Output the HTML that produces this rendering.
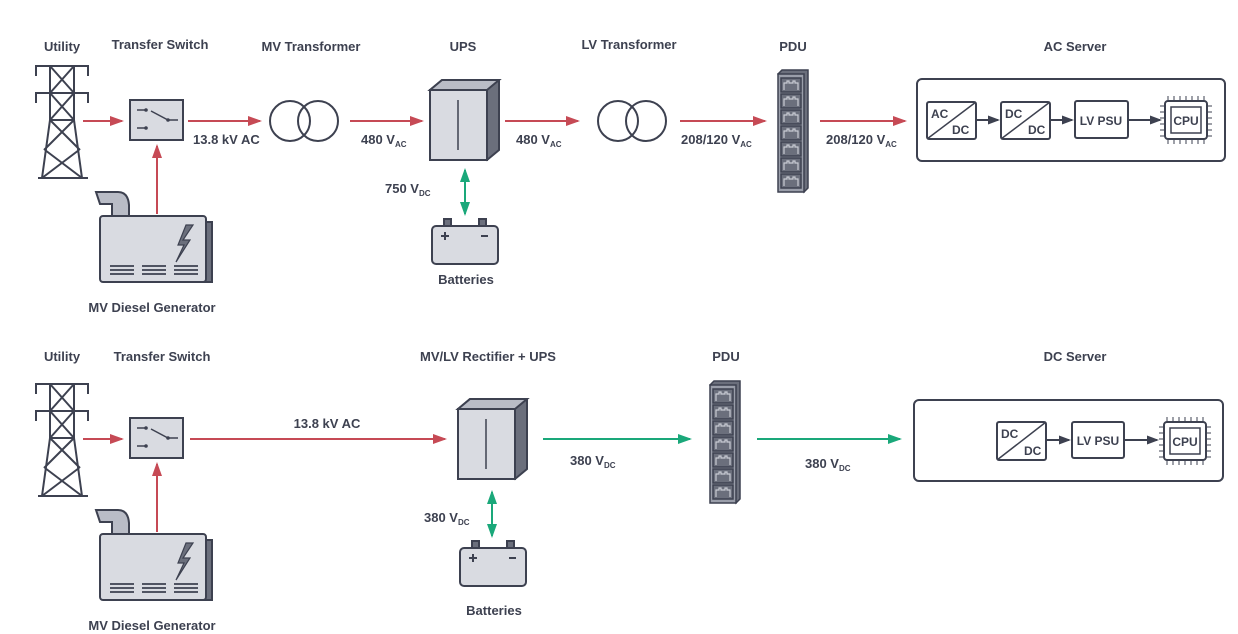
<!DOCTYPE html>
<html><head><meta charset="utf-8"><style>
html,body{margin:0;padding:0;background:#fff;}
svg{display:block;}
text{font-family:"Liberation Sans",sans-serif;font-weight:bold;fill:#3d4150;}
</style></head><body>
<svg width="1238" height="634" viewBox="0 0 1238 634" xmlns="http://www.w3.org/2000/svg">
<defs>
<marker id="ar" markerWidth="14" markerHeight="10" refX="12" refY="5" orient="auto" markerUnits="userSpaceOnUse"><path d="M0,0 L14,5 L0,10 Z" fill="#c64a55"/></marker>
<marker id="ag" markerWidth="14" markerHeight="10" refX="12" refY="5" orient="auto-start-reverse" markerUnits="userSpaceOnUse"><path d="M0,0 L14,5 L0,10 Z" fill="#1aa87a"/></marker>
<marker id="ad" markerWidth="12" markerHeight="9" refX="10" refY="4.5" orient="auto" markerUnits="userSpaceOnUse"><path d="M0,0 L12,4.5 L0,9 Z" fill="#3d4150"/></marker>
<g id="tower" fill="none" stroke="#3d4150" stroke-width="2">
<path d="M36,76 V66 H88 V76 M36,103 V93 H88 V103"/>
<rect x="50" y="66" width="24" height="54"/>
<path d="M50,66 L74,93 M74,66 L50,93 M50,93 L74,120 M74,93 L50,120"/>
<path d="M50,120 L42,178 M74,120 L82,178 M50,120 L80,150 M74,120 L44,150 M45,150 L82,178 M79,150 L42,178 M38,178 H88"/>
</g>
<g id="switch">
<rect x="130" y="100" width="53" height="40" fill="#d9dbe1" stroke="#3d4150" stroke-width="2"/>
<path d="M137,110 H146 M137,128 H146 M151,111 L168,120 H178" stroke="#3d4150" stroke-width="1.5" fill="none"/>
<circle cx="146" cy="110" r="1.8" fill="#3d4150"/><circle cx="146" cy="128" r="1.8" fill="#3d4150"/><circle cx="168" cy="120" r="1.8" fill="#3d4150"/>
</g>
<g id="gen" stroke="#3d4150" stroke-width="2">
<path d="M96,192 H118 Q128,192 129,205 V216 H112 V204 H100 Z" fill="#b9bcc6"/>
<rect x="104" y="222" width="108" height="60" fill="#6b6f7c"/>
<rect x="100" y="216" width="106" height="66" rx="3" fill="#d9dbe1"/>
<path d="M186,225 L178,245 H184 L176,262 L190,240 H183 L193,225 Z" fill="#6b6f7c" stroke-width="1.2"/>
<path d="M110,266 H134 M110,270 H134 M110,274 H134 M142,266 H166 M142,270 H166 M142,274 H166 M174,266 H198 M174,270 H198 M174,274 H198" stroke-width="1.8"/>
</g>
<g id="xf" fill="none" stroke="#3d4150" stroke-width="2"><circle cx="0" cy="0" r="20"/><circle cx="28" cy="0" r="20"/></g>
<g id="box" stroke="#3d4150" stroke-width="2">
<path d="M0,10 L12,0 H69 V70 L57,80 Z" fill="#6b6f7c"/>
<path d="M0,10 L12,0 H69 L57,10 Z" fill="#b9bcc6"/>
<rect x="0" y="10" width="57" height="70" fill="#d9dbe1"/>
<path d="M28,20 V70" stroke-width="1.5"/>
</g>
<g id="batt" stroke="#3d4150" stroke-width="2">
<rect x="12" y="0" width="7" height="8" fill="#6b6f7c"/><rect x="47" y="0" width="7" height="8" fill="#6b6f7c"/>
<rect x="0" y="7" width="66" height="38" rx="4" fill="#d9dbe1"/>
<path d="M9,17 H17 M13,13 V21 M49,17 H56" stroke-width="2"/>
</g>
<g id="pdu" stroke="#3d4150" stroke-width="1.5">
<path d="M0,4 L4,0 H30 V118 L26,122 Z" fill="#6b6f7c"/>
<rect x="0" y="4" width="26" height="118" fill="#9a9eaa"/>
<g id="out"><rect x="3" y="8" width="20" height="14" fill="#6b6f7c"/><path d="M6,20 V13 H9 V11 H11 V13 H15 V11 H17 V13 H20 V20" fill="none" stroke="#c9ccd4" stroke-width="1.2"/></g>
<use href="#out" y="16"/><use href="#out" y="32"/><use href="#out" y="48"/><use href="#out" y="64"/><use href="#out" y="80"/><use href="#out" y="96"/>
</g>
<g id="cpu" stroke="#3d4150" fill="none">
<path d="M8,0 V6 M14,0 V6 M20,0 V6 M26,0 V6 M32,0 V6 M38,0 V6 M44,0 V6 M8,42 V48 M14,42 V48 M20,42 V48 M26,42 V48 M32,42 V48 M38,42 V48 M44,42 V48 M0,10 H6 M0,16 H6 M0,22 H6 M0,28 H6 M0,34 H6 M0,40 H6 M46,10 H52 M46,16 H52 M46,22 H52 M46,28 H52 M46,34 H52 M46,40 H52" stroke-width="1"/>
<rect x="5" y="5" width="42" height="38" rx="3" fill="#fff" stroke-width="2"/>
<rect x="11" y="11" width="30" height="26" stroke-width="1.5"/>
</g>
</defs>

<!-- TOP ROW -->
<text x="62" y="51" font-size="13" text-anchor="middle">Utility</text>
<text x="160" y="49" font-size="13" text-anchor="middle">Transfer Switch</text>
<text x="311" y="51" font-size="13" text-anchor="middle">MV Transformer</text>
<text x="463" y="51" font-size="13" text-anchor="middle">UPS</text>
<text x="629" y="49" font-size="13" text-anchor="middle">LV Transformer</text>
<text x="793" y="51" font-size="13" text-anchor="middle">PDU</text>
<text x="1075" y="51" font-size="13" text-anchor="middle">AC Server</text>

<use href="#tower"/>
<use href="#switch"/>
<use href="#gen"/>
<line x1="83" y1="121" x2="122" y2="121" stroke="#c64a55" stroke-width="2" marker-end="url(#ar)"/>
<line x1="157" y1="214" x2="157" y2="146" stroke="#c64a55" stroke-width="2" marker-end="url(#ar)"/>
<line x1="188" y1="121" x2="260" y2="121" stroke="#c64a55" stroke-width="2" marker-end="url(#ar)"/>
<text x="193" y="144" font-size="13">13.8 kV AC</text>
<use href="#xf" x="290" y="121"/>
<line x1="350" y1="121" x2="422" y2="121" stroke="#c64a55" stroke-width="2" marker-end="url(#ar)"/>
<text x="361" y="144" font-size="13">480 V<tspan font-size="8" dy="3">AC</tspan></text>
<use href="#box" x="430" y="80"/>
<line x1="505" y1="121" x2="578" y2="121" stroke="#c64a55" stroke-width="2" marker-end="url(#ar)"/>
<text x="516" y="144" font-size="13">480 V<tspan font-size="8" dy="3">AC</tspan></text>
<use href="#xf" x="618" y="121"/>
<line x1="680" y1="121" x2="765" y2="121" stroke="#c64a55" stroke-width="2" marker-end="url(#ar)"/>
<text x="681" y="144" font-size="13">208/120 V<tspan font-size="8" dy="3">AC</tspan></text>
<use href="#pdu" x="778" y="70"/>
<line x1="820" y1="121" x2="905" y2="121" stroke="#c64a55" stroke-width="2" marker-end="url(#ar)"/>
<text x="826" y="144" font-size="13">208/120 V<tspan font-size="8" dy="3">AC</tspan></text>
<line x1="465" y1="170" x2="465" y2="214" stroke="#1aa87a" stroke-width="2" marker-start="url(#ag)" marker-end="url(#ag)"/>
<text x="385" y="193" font-size="13">750 V<tspan font-size="8" dy="3">DC</tspan></text>
<use href="#batt" x="432" y="219"/>
<text x="466" y="284" font-size="13" text-anchor="middle">Batteries</text>
<text x="152" y="312" font-size="13" text-anchor="middle">MV Diesel Generator</text>

<rect x="917" y="79" width="308" height="82" rx="5" fill="#fff" stroke="#3d4150" stroke-width="2"/>
<rect x="927" y="102" width="49" height="37" rx="2" fill="#fff" stroke="#3d4150" stroke-width="2"/>
<line x1="927" y1="139" x2="976" y2="102" stroke="#3d4150" stroke-width="1.5"/>
<text x="931" y="118" font-size="12">AC</text><text x="952" y="134" font-size="12">DC</text>
<line x1="976" y1="120" x2="998" y2="120" stroke="#3d4150" stroke-width="2" marker-end="url(#ad)"/>
<rect x="1001" y="102" width="49" height="37" rx="2" fill="#fff" stroke="#3d4150" stroke-width="2"/>
<line x1="1001" y1="139" x2="1050" y2="102" stroke="#3d4150" stroke-width="1.5"/>
<text x="1005" y="118" font-size="12">DC</text><text x="1028" y="134" font-size="12">DC</text>
<line x1="1050" y1="120" x2="1072" y2="120" stroke="#3d4150" stroke-width="2" marker-end="url(#ad)"/>
<rect x="1075" y="101" width="53" height="37" rx="2" fill="#fff" stroke="#3d4150" stroke-width="2"/>
<text x="1101" y="125" font-size="12" text-anchor="middle">LV PSU</text>
<line x1="1128" y1="120" x2="1160" y2="120" stroke="#3d4150" stroke-width="2" marker-end="url(#ad)"/>
<use href="#cpu" x="1160" y="96"/>
<text x="1186" y="125" font-size="12" text-anchor="middle">CPU</text>

<!-- BOTTOM ROW -->
<text x="62" y="361" font-size="13" text-anchor="middle">Utility</text>
<text x="162" y="361" font-size="13" text-anchor="middle">Transfer Switch</text>
<text x="488" y="361" font-size="13" text-anchor="middle">MV/LV Rectifier + UPS</text>
<text x="726" y="361" font-size="13" text-anchor="middle">PDU</text>
<text x="1075" y="361" font-size="13" text-anchor="middle">DC Server</text>

<g transform="translate(0,318)">
<use href="#tower"/>
<use href="#switch"/>
<use href="#gen"/>
<line x1="83" y1="121" x2="122" y2="121" stroke="#c64a55" stroke-width="2" marker-end="url(#ar)"/>
<line x1="157" y1="214" x2="157" y2="146" stroke="#c64a55" stroke-width="2" marker-end="url(#ar)"/>
</g>
<text x="152" y="630" font-size="13" text-anchor="middle">MV Diesel Generator</text>
<line x1="190" y1="439" x2="445" y2="439" stroke="#c64a55" stroke-width="2" marker-end="url(#ar)"/>
<text x="327" y="428" font-size="13" text-anchor="middle">13.8 kV AC</text>
<use href="#box" x="458" y="399"/>
<line x1="543" y1="439" x2="690" y2="439" stroke="#1aa87a" stroke-width="2" marker-end="url(#ag)"/>
<text x="570" y="465" font-size="13">380 V<tspan font-size="8" dy="3">DC</tspan></text>
<use href="#pdu" x="710" y="381"/>
<line x1="757" y1="439" x2="900" y2="439" stroke="#1aa87a" stroke-width="2" marker-end="url(#ag)"/>
<text x="805" y="468" font-size="13">380 V<tspan font-size="8" dy="3">DC</tspan></text>
<line x1="492" y1="492" x2="492" y2="536" stroke="#1aa87a" stroke-width="2" marker-start="url(#ag)" marker-end="url(#ag)"/>
<text x="424" y="522" font-size="13">380 V<tspan font-size="8" dy="3">DC</tspan></text>
<use href="#batt" x="460" y="541"/>
<text x="494" y="615" font-size="13" text-anchor="middle">Batteries</text>

<rect x="914" y="400" width="309" height="81" rx="5" fill="#fff" stroke="#3d4150" stroke-width="2"/>
<rect x="997" y="422" width="49" height="38" rx="2" fill="#fff" stroke="#3d4150" stroke-width="2"/>
<line x1="997" y1="460" x2="1046" y2="422" stroke="#3d4150" stroke-width="1.5"/>
<text x="1001" y="438" font-size="12">DC</text><text x="1024" y="455" font-size="12">DC</text>
<line x1="1046" y1="440" x2="1069" y2="440" stroke="#3d4150" stroke-width="2" marker-end="url(#ad)"/>
<rect x="1072" y="422" width="52" height="36" rx="2" fill="#fff" stroke="#3d4150" stroke-width="2"/>
<text x="1098" y="445" font-size="12" text-anchor="middle">LV PSU</text>
<line x1="1124" y1="440" x2="1157" y2="440" stroke="#3d4150" stroke-width="2" marker-end="url(#ad)"/>
<use href="#cpu" x="1159" y="417"/>
<text x="1185" y="446" font-size="12" text-anchor="middle">CPU</text>
</svg>
</body></html>
